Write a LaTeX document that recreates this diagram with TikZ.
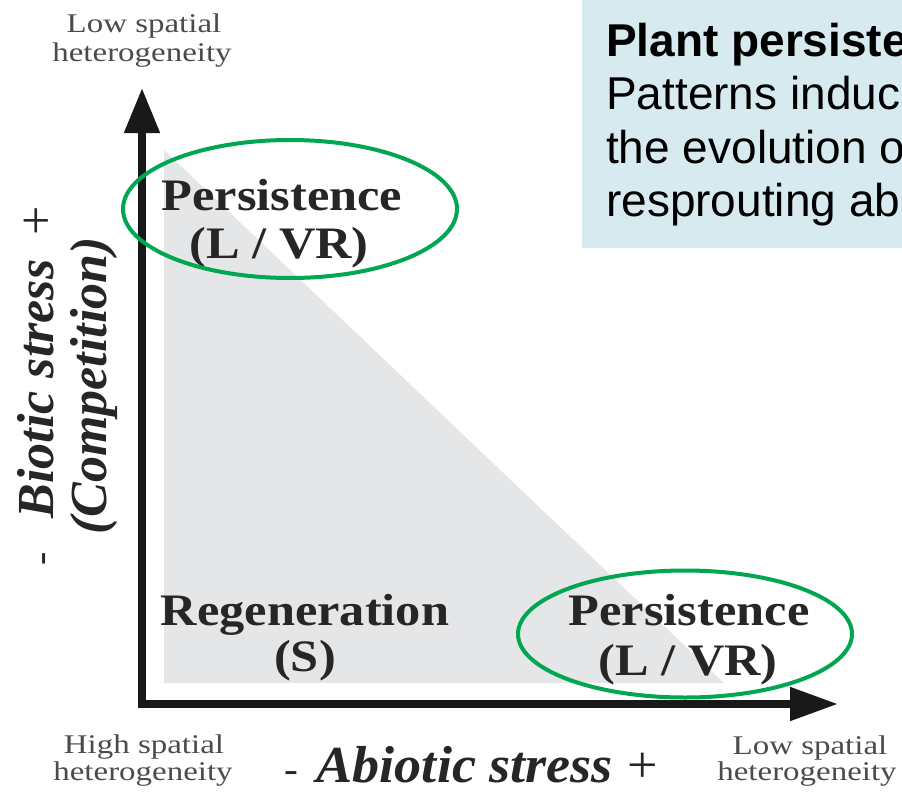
\documentclass[tikz,border=0pt]{standalone}
\usepackage{fontspec}
\setmainfont{Liberation Serif}
\newfontfamily\arialfont{Liberation Sans}
\usetikzlibrary{arrows.meta,shapes.geometric}
\definecolor{boxblue}{RGB}{214,234,239}
\definecolor{ringgreen}{RGB}{0,166,81}
\definecolor{zonegray}{RGB}{229,230,232}
\definecolor{labelgray}{RGB}{75,75,75}
\begin{document}
\begin{tikzpicture}[x=1pt,y=-1pt,
  boxtext/.style={anchor=base west, inner sep=0pt, font=\arialfont\fontsize{46}{50}\selectfont},
  zonetext/.style={anchor=base, inner sep=0pt, xscale=1.12, text=black!85,
    font=\fontsize{45}{50}\selectfont\bfseries},
  smalllabel/.style={anchor=base, inner sep=0pt, xscale=1.22, text=labelgray,
    font=\fontsize{27}{30}\selectfont},
  axistitle/.style={anchor=base, inner sep=0pt, text=black!85,
    font=\fontsize{52}{56}\selectfont\bfseries\itshape},
  ring/.style={ellipse, draw=ringgreen, line width=4pt, inner sep=0pt},
  axisline/.style={line width=8pt, line join=miter, black!90,
    {Triangle[length=45pt,width=34pt]}-{Triangle[length=48pt,width=32pt]}}
]
\useasboundingbox (0,0) rectangle (902,792);
\clip (0,0) rectangle (902,792);
\fill[white] (0,0) rectangle (902,792);

% explanatory box
\fill[boxblue] (582,0) rectangle (902,248);
\node[boxtext] (b1) at (606,57) {\bfseries Plant persiste};
\node[boxtext] (b2) at (606,109) {Patterns induc};
\node[boxtext] (b3) at (606,163) {the evolution o};
\node[boxtext] (b4) at (606,216) {resprouting ab};

% grey regeneration zone
\fill[zonegray] (164,150) -- (164,683) -- (724,683) -- cycle;

% axes
\coordinate (ytip) at (142,88);
\coordinate (origin) at (142,704);
\coordinate (xtip) at (838,704);
\draw[axisline] (ytip) -- (origin) -- (xtip);

% zone labels
\node[zonetext] (p1a) at (282,210) {Persistence};
\node[zonetext] (p1b) at (279,258) {(L / VR)};
\node[zonetext] (r1a) at (305,625) {Regeneration};
\node[zonetext] (r1b) at (305,671) {(S)};
\node[zonetext] (p2a) at (689,625) {Persistence};
\node[zonetext] (p2b) at (688,675) {(L / VR)};

% green rings
\node[ring, minimum width=334pt, minimum height=138pt] (e1) at (290,209) {};
\node[ring, minimum width=334pt, minimum height=127pt] (e2) at (685,634) {};

% axis titles
\node[axistitle, rotate=90] (ya) at (53,386)
  {{\mdseries\upshape\fontsize{40}{44}\selectfont -}\hspace{34pt}Biotic stress\hspace{24pt}{\mdseries\upshape +}};
\node[axistitle, rotate=90] (yb) at (106,386) {(Competition)};
\node[axistitle, xscale=1.04] (xa) at (471,782)
  {{\mdseries\upshape\fontsize{40}{44}\selectfont -}\hspace{18pt}Abiotic stress\hspace{14pt}{\mdseries\upshape +}};

% heterogeneity labels
\node[smalllabel] (l1a) at (144,33) {Low spatial};
\node[smalllabel] (l1b) at (142,62) {heterogeneity};
\node[smalllabel] (l2a) at (144,753) {High spatial};
\node[smalllabel] (l2b) at (143,780) {heterogeneity};
\node[smalllabel] (l3a) at (810,754) {Low spatial};
\node[smalllabel] (l3b) at (807,780) {heterogeneity};
\end{tikzpicture}
\end{document}
